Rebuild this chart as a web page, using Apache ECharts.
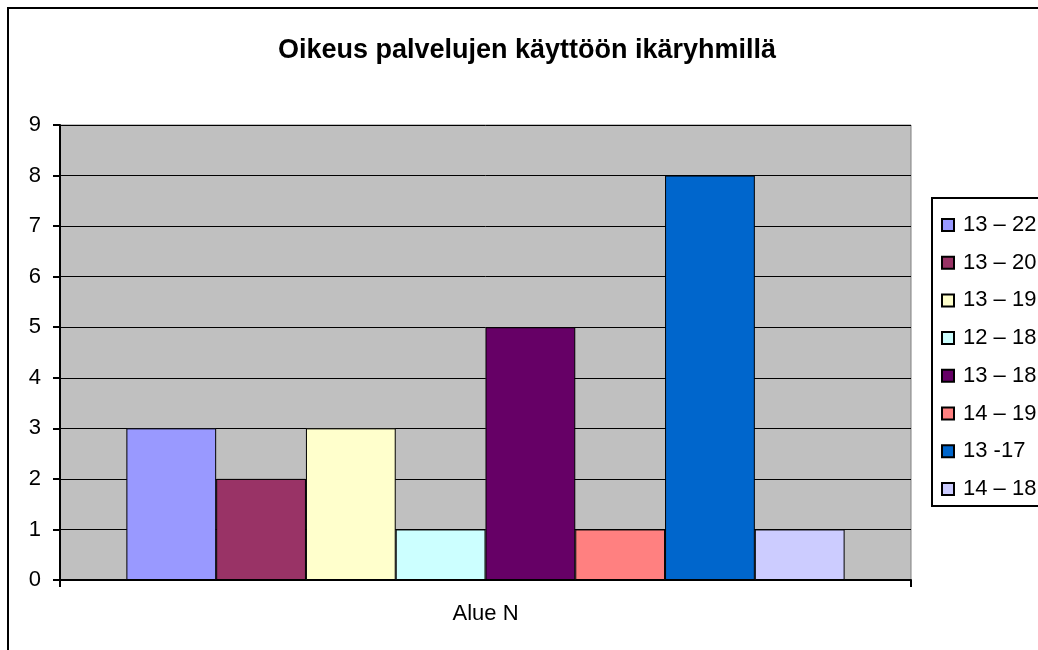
<!DOCTYPE html>
<html><head><meta charset="utf-8">
<script src="https://cdn.jsdelivr.net/npm/echarts@6/dist/echarts.min.js"></script>
<style>html,body{margin:0;padding:0;background:#fff;}#c{width:1038px;height:650px;}</style>
</head><body><div id="c"></div>
<script>
const categories = ['Alue N'];
const seriesNames = ['13 – 22', '13 – 20', '13 – 19', '12 – 18', '13 – 18', '14 – 19', '13 -17', '14 – 18'];
const seriesValues = [3, 2, 3, 1, 5, 1, 8, 1];
const seriesColors = ['#9999FF', '#993366', '#FFFFCC', '#CCFFFF', '#660066', '#FF8080', '#0066CC', '#CCCCFF'];
const yTicks = [0, 1, 2, 3, 4, 5, 6, 7, 8, 9];

const chart = echarts.init(document.getElementById('c'));
const FONT = '"Liberation Sans", Arial, sans-serif';
chart.setOption({
  animation: false,
  backgroundColor: '#fff',
  title: {
    text: 'Oikeus palvelujen käyttöön ikäryhmillä',
    left: 522, top: 32, textAlign: 'center',
    textStyle: { fontFamily: FONT, fontSize: 27, fontWeight: 'bold', color: '#000' }
  },
  graphic: [
    { type: 'rect', shape: { x: 8, y: 8, width: 1100, height: 700 }, style: { fill: 'none', stroke: '#000', lineWidth: 2 }, z: 100 },
    { type: 'rect', shape: { x: 932, y: 198, width: 200, height: 308 }, style: { fill: 'none', stroke: '#000', lineWidth: 2 }, z: 100 }
  ],
  legend: {
    orient: 'vertical', left: 936, top: 209, itemGap: 15.7,
    itemWidth: 12, itemHeight: 12, icon: 'rect',
    data: seriesNames,
    textStyle: { fontFamily: FONT, fontSize: 22, color: '#000', padding: [0, 0, 0, 4] }
  },
  grid: { left: 60, right: 127, top: 125, bottom: 70, show: true, backgroundColor: '#C0C0C0', borderColor: '#808080', borderWidth: 1 },
  xAxis: {
    type: 'category', data: categories,
    axisLine: { lineStyle: { color: '#000', width: 2 } },
    axisTick: { show: true, length: 7, lineStyle: { color: '#000', width: 2 } },
    axisLabel: { fontFamily: FONT, fontSize: 22, color: '#000', margin: 23 }
  },
  yAxis: {
    type: 'value', min: 0, max: 9, interval: 1,
    axisLine: { show: true, lineStyle: { color: '#000', width: 2 } },
    axisTick: { show: true, length: 7, lineStyle: { color: '#000', width: 2 } },
    splitLine: { show: true, lineStyle: { color: '#000', width: 1 } },
    axisLabel: { fontFamily: FONT, fontSize: 22, color: '#000', margin: 19,
      formatter: v => yTicks.includes(v) ? String(v) : '' }
  },
  series: seriesNames.map((n, i) => ({
    name: n, type: 'bar',
    data: [seriesValues[i]],
    barGap: '0%', barCategoryGap: '15.6%',
    itemStyle: { color: seriesColors[i], borderColor: '#000', borderWidth: 1 }
  }))
});
</script></body></html>
